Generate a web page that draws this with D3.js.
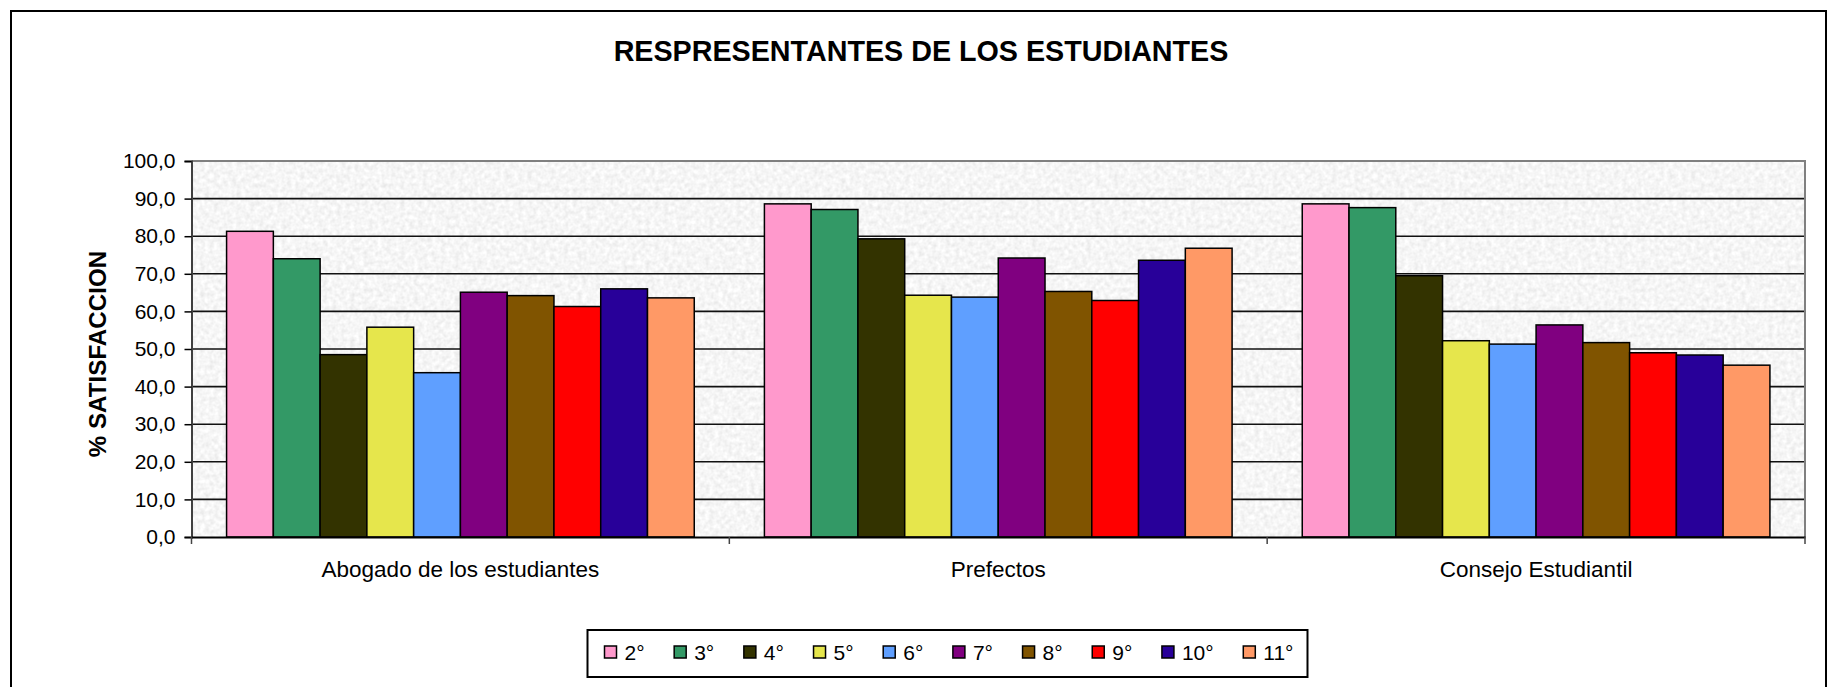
<!DOCTYPE html>
<html>
<head>
<meta charset="utf-8">
<script src="https://cdn.jsdelivr.net/npm/d3@7"></script>
<style>
  body { margin: 0; background: #fff; }
  text { font-family: "Liberation Sans", Arial, sans-serif; }
</style>
</head>
<body>
<script>
(function(d3) {

  var categories = ["Abogado de los estudiantes", "Prefectos", "Consejo Estudiantil"];
  var grades = ["2°", "3°", "4°", "5°", "6°", "7°", "8°", "9°", "10°", "11°"];
  var colors = ["#FF99CC", "#339966", "#333300", "#E6E64C", "#5F9FFF", "#800080", "#805400", "#FF0000", "#280099", "#FF9966"];

  // one array per category, values in grade order
  var abogado    = [81.3, 74.0, 48.5, 55.8, 43.7, 65.1, 64.2, 61.3, 66.0, 63.6];
  var prefectos  = [88.6, 87.1, 79.3, 64.3, 63.8, 74.2, 65.3, 62.9, 73.6, 76.8];
  var consejo    = [88.6, 87.6, 69.5, 52.2, 51.3, 56.4, 51.7, 49.0, 48.4, 45.7];
  var values = [abogado, prefectos, consejo];

  var yTicks = [0, 10, 20, 30, 40, 50, 60, 70, 80, 90, 100];

  var svg = d3.select("body").append("svg")
        .attr("width", 1827)
        .attr("height", 687),
      margin = {top: 161, left: 191.5, right: 22, bottom: 150},
      width = 1805 - margin.left,
      height = 537 - margin.top;

  // texture for plot background
  var defs = svg.append("defs");
  var filt = defs.append("filter").attr("id", "granite")
      .attr("x", 0).attr("y", 0).attr("width", 1).attr("height", 1);
  filt.append("feTurbulence")
      .attr("type", "fractalNoise")
      .attr("baseFrequency", 0.22)
      .attr("numOctaves", 2)
      .attr("seed", 4);
  filt.append("feColorMatrix")
      .attr("type", "matrix")
      .attr("values", "0.3 0 0 0 0.77  0.3 0 0 0 0.77  0.3 0 0 0 0.77  0 0 0 0 1");

  // outer chart frame
  svg.append("rect")
      .attr("x", 11).attr("y", 11)
      .attr("width", 1815).attr("height", 720)
      .attr("fill", "none")
      .attr("stroke", "#000")
      .attr("stroke-width", 2);

  svg.append("text")
      .attr("x", 921)
      .attr("y", 61)
      .attr("text-anchor", "middle")
      .attr("font-size", 28.7)
      .attr("font-weight", "bold")
      .text("RESPRESENTANTES DE LOS ESTUDIANTES");

  var g = svg.append("g").attr("transform", "translate(" + margin.left + "," + margin.top + ")");

  var x0 = d3.scaleBand()
      .domain(categories)
      .range([0, width]);

  var x1 = d3.scaleBand()
      .domain(grades)
      .range([0, x0.bandwidth()])
      .paddingInner(0)
      .paddingOuter(0.75);

  var y = d3.scaleLinear()
      .domain([0, 100])
      .range([height, 0]);

  g.append("rect")
      .attr("width", width)
      .attr("height", height)
      .attr("filter", "url(#granite)");

  // gridlines
  g.append("g")
    .selectAll("line")
      .data(yTicks.filter(function(d) { return d > 0 && d < 100; }))
    .enter().append("line")
      .attr("x1", 0)
      .attr("x2", width)
      .attr("y1", function(d) { return y(d); })
      .attr("y2", function(d) { return y(d); })
      .attr("stroke", "#111")
      .attr("stroke-width", 1.6);

  // top and right border of the plot
  g.append("path")
      .attr("d", "M0," + y(100) + "H" + width + "V" + height)
      .attr("fill", "none")
      .attr("stroke", "#808080")
      .attr("stroke-width", 2);

  // bars
  g.append("g")
    .selectAll("g")
      .data(categories)
    .enter().append("g")
      .attr("transform", function(d) { return "translate(" + x0(d) + ",0)"; })
    .selectAll("rect")
      .data(function(d, i) {
        return values[i].map(function(v, j) { return {grade: grades[j], value: v, color: colors[j]}; });
      })
    .enter().append("rect")
      .attr("x", function(d) { return x1(d.grade); })
      .attr("width", x1.bandwidth())
      .attr("y", function(d) { return y(d.value); })
      .attr("height", function(d) { return height - y(d.value); })
      .attr("fill", function(d) { return d.color; })
      .attr("stroke", "#000")
      .attr("stroke-width", 1.5);

  // y axis
  var yAxis = g.append("g")
      .call(d3.axisLeft(y)
        .tickValues(yTicks)
        .tickSize(7)
        .tickPadding(9)
        .tickFormat(function(d) { return d.toFixed(1).replace(".", ","); }));
  yAxis.select(".domain").attr("stroke", "#404040").attr("stroke-width", 2);
  yAxis.selectAll(".tick line").attr("stroke", "#000").attr("stroke-width", 1.5);
  yAxis.selectAll("text")
      .attr("font-family", "Liberation Sans, Arial, sans-serif")
      .attr("font-size", 21)
      .attr("fill", "#000");

  // x axis: labels at band centres, ticks at band edges
  var xAxis = g.append("g")
      .attr("transform", "translate(0," + height + ")")
      .call(d3.axisBottom(x0).tickSize(0).tickPadding(24));
  xAxis.select(".domain").attr("stroke", "#000").attr("stroke-width", 2);
  xAxis.selectAll("text")
      .attr("font-family", "Liberation Sans, Arial, sans-serif")
      .attr("font-size", 22.5)
      .attr("fill", "#000");

  var edges = categories.map(function(c) { return x0(c); }).concat([width]);
  g.append("g")
    .selectAll("line")
      .data(edges)
    .enter().append("line")
      .attr("x1", function(d) { return d; })
      .attr("x2", function(d) { return d; })
      .attr("y1", height)
      .attr("y2", height + 7)
      .attr("stroke", "#444")
      .attr("stroke-width", 1.5);

  svg.append("text")
      .attr("transform", "translate(106," + (margin.top + height / 2 + 5) + ") rotate(-90)")
      .attr("text-anchor", "middle")
      .attr("font-size", 24.2)
      .attr("font-weight", "bold")
      .text("% SATISFACCION");

  // legend
  var legend = svg.append("g");
  var legendBox = legend.append("rect")
      .attr("x", 587.5).attr("y", 630)
      .attr("height", 47)
      .attr("fill", "#fff")
      .attr("stroke", "#000")
      .attr("stroke-width", 2);

  var lx = 604.5;
  grades.forEach(function(gr, i) {
    legend.append("rect")
        .attr("x", lx).attr("y", 646)
        .attr("width", 12).attr("height", 12)
        .attr("fill", colors[i])
        .attr("stroke", "#000")
        .attr("stroke-width", 1.5);
    var t = legend.append("text")
        .attr("x", lx + 20)
        .attr("y", 660)
        .attr("font-size", 21)
        .text(gr);
    lx += 20 + t.node().getComputedTextLength() + (i < grades.length - 1 ? 29.6 : 14);
  });
  legendBox.attr("width", lx - 587.5);

}(d3));
</script>
</body>
</html>
